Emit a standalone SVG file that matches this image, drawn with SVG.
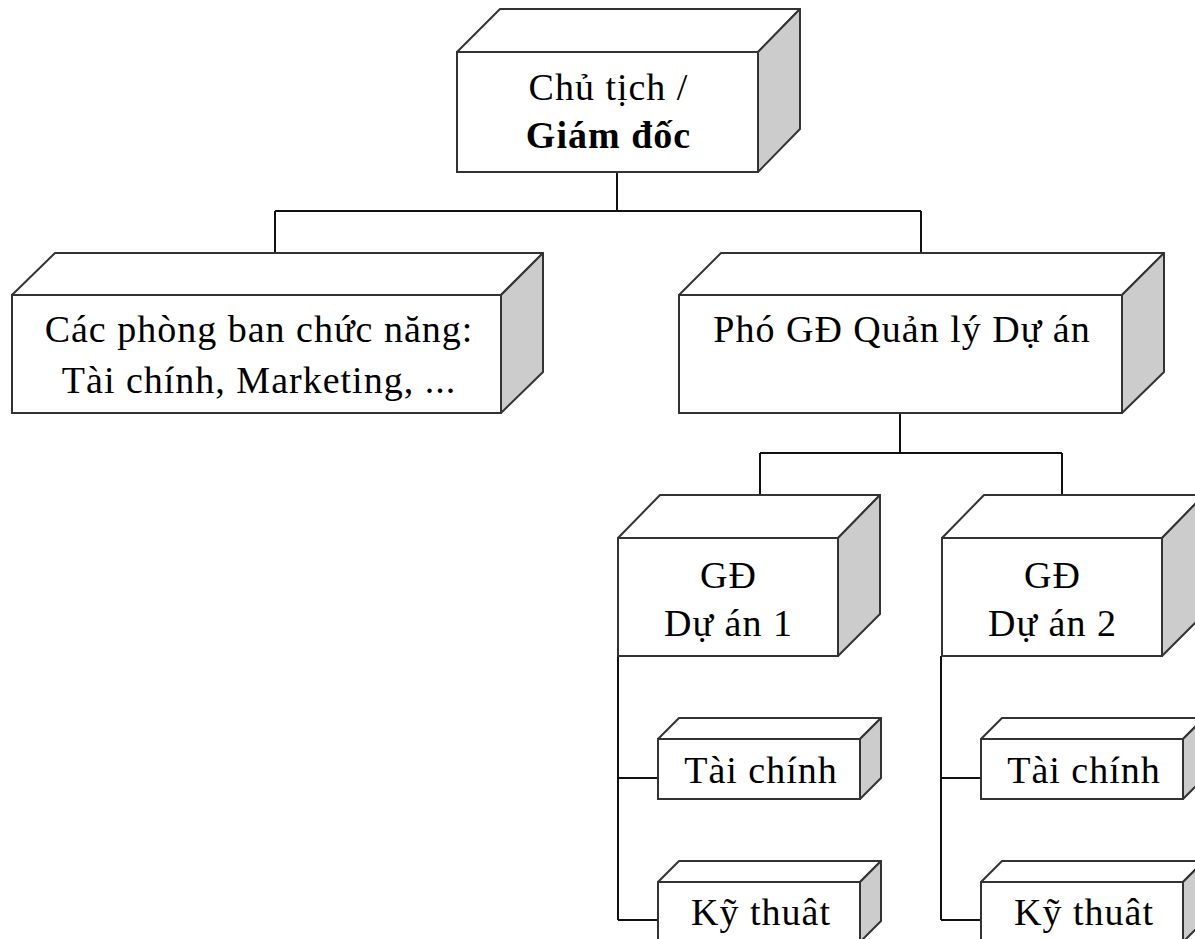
<svg xmlns="http://www.w3.org/2000/svg" width="1195" height="939" viewBox="0 0 1195 939">
  <style>
    .front { fill: #ffffff; stroke: #333333; stroke-width: 2; }
    .top { fill: #ffffff; stroke: #333333; stroke-width: 2; stroke-linejoin: round; }
    .side { fill: #cccccc; stroke: #333333; stroke-width: 2; stroke-linejoin: round; }
    .label { font-family: "Liberation Serif", "Times New Roman", serif; font-size: 38px; letter-spacing: 1px; fill: #000000; text-anchor: middle; }
    .bold { font-weight: bold; }
    .wire { fill: none; stroke: #111111; stroke-width: 2; }
  </style>
  <rect width="1195" height="939" fill="#ffffff"/>

  <!-- connectors -->
  <g id="connectors" class="wire">
    <path d="M617,172 V211 M275,211 H921 M275,211 V273 M921,211 V273"/>
    <path d="M900,413 V453 M760,453 H1062 M760,453 V515 M1062,453 V515"/>
    <path d="M618,656 V920 M618,778 H658 M618,920 H658"/>
    <path d="M941,656 V920 M941,778 H981 M941,920 H981"/>
  </g>

  <!-- chairman / director -->
  <g id="node-chairman">
    <polygon class="top" points="457,52 500,9 800,9 758,52"/>
    <polygon class="side" points="758,52 800,9 800,129 758,172"/>
    <rect class="front" x="457" y="52" width="301" height="120"/>
    <text class="label" x="608.5" y="100">Chủ tịch /</text>
    <text class="label bold" x="608.5" y="148">Giám đốc</text>
  </g>

  <!-- functional departments -->
  <g id="node-departments">
    <polygon class="top" points="12,295 55,253 543,253 501,295"/>
    <polygon class="side" points="501,295 543,253 543,372 501,413"/>
    <rect class="front" x="12" y="295" width="489" height="118"/>
    <text class="label" x="259" y="342">Các phòng ban chức năng:</text>
    <text class="label" x="259" y="393">Tài chính, Marketing, ...</text>
  </g>

  <!-- deputy director, projects -->
  <g id="node-deputy">
    <polygon class="top" points="679,295 721,253 1164,253 1122,295"/>
    <polygon class="side" points="1122,295 1164,253 1164,372 1122,413"/>
    <rect class="front" x="679" y="295" width="443" height="118"/>
    <text class="label" x="902" y="342">Phó GĐ Quản lý Dự án</text>
  </g>

  <!-- project director 1 -->
  <g id="node-project1">
    <polygon class="top" points="618,538 660,495 880,495 838,538"/>
    <polygon class="side" points="838,538 880,495 880,614 838,656"/>
    <rect class="front" x="618" y="538" width="220" height="118"/>
    <text class="label" x="728.5" y="588">GĐ</text>
    <text class="label" x="728.5" y="636">Dự án 1</text>
  </g>

  <!-- project director 2 -->
  <g id="node-project2">
    <polygon class="top" points="942,538 984,495 1204,495 1162,538"/>
    <polygon class="side" points="1162,538 1204,495 1204,614 1162,656"/>
    <rect class="front" x="942" y="538" width="220" height="118"/>
    <text class="label" x="1052.5" y="588">GĐ</text>
    <text class="label" x="1052.5" y="636">Dự án 2</text>
  </g>

  <!-- project 1 teams -->
  <g id="node-p1-finance">
    <polygon class="top" points="658,739 679,718 881,718 860,739"/>
    <polygon class="side" points="860,739 881,718 881,778 860,799"/>
    <rect class="front" x="658" y="739" width="202" height="60"/>
    <text class="label" x="761" y="783">Tài chính</text>
  </g>
  <g id="node-p1-technical">
    <polygon class="top" points="658,882 679,861 881,861 860,882"/>
    <polygon class="side" points="860,882 881,861 881,921 860,942"/>
    <rect class="front" x="658" y="882" width="202" height="60"/>
    <text class="label" x="761" y="925">Kỹ thuât</text>
  </g>

  <!-- project 2 teams -->
  <g id="node-p2-finance">
    <polygon class="top" points="981,739 1002,718 1204,718 1183,739"/>
    <polygon class="side" points="1183,739 1204,718 1204,778 1183,799"/>
    <rect class="front" x="981" y="739" width="202" height="60"/>
    <text class="label" x="1084" y="783">Tài chính</text>
  </g>
  <g id="node-p2-technical">
    <polygon class="top" points="981,882 1002,861 1204,861 1183,882"/>
    <polygon class="side" points="1183,882 1204,861 1204,921 1183,942"/>
    <rect class="front" x="981" y="882" width="202" height="60"/>
    <text class="label" x="1084" y="925">Kỹ thuât</text>
  </g>
</svg>
